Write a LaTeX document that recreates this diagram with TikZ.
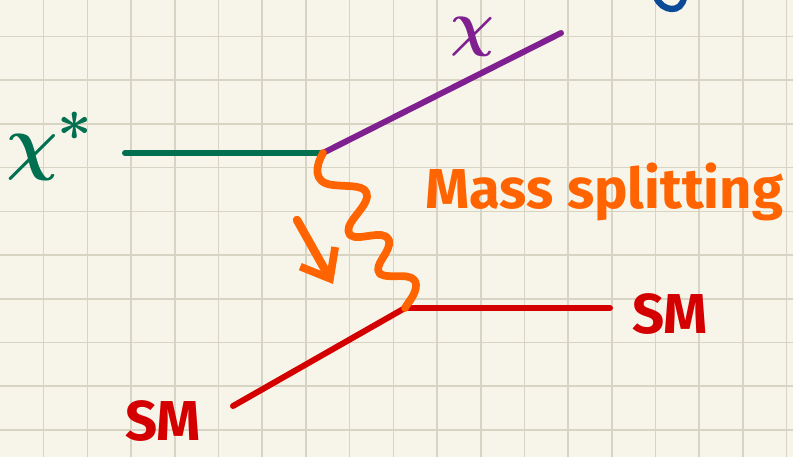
\documentclass[tikz,border=0pt]{standalone}
\usepackage{fontspec}
\setsansfont{Fira Sans}
\usetikzlibrary{arrows.meta}
\definecolor{papercolor}{RGB}{247,245,234}
\definecolor{gridcolor}{RGB}{216,212,196}
\definecolor{dmgreen}{RGB}{0,112,80}
\definecolor{dmpurple}{RGB}{128,32,144}
\definecolor{splitorange}{RGB}{255,100,0}
\definecolor{smred}{RGB}{212,0,0}
\definecolor{penblue}{RGB}{10,74,150}
\newcommand{\bigsym}[2]{\scalebox{#1}{\Huge\boldmath$#2$}}
\tikzset{
  gridline/.style={draw=gridcolor, line width=0.9pt},
  leg/.style={line width=3.4pt, line cap=round},
  wiggle/.style={draw=splitorange, line width=4.4pt, line cap=round, line join=round},
  hint/.style={-{Straight Barb[length=5mm, width=8mm, line width=4.4pt]}, draw=splitorange, line width=4.8pt, line cap=round},
  lbl/.style={font=\sffamily\bfseries\fontsize{32}{32}\selectfont, inner sep=0pt},
  sym/.style={inner sep=0pt},
}

\begin{document}
\begin{tikzpicture}[x=0.02cm, y=-0.02cm]
\useasboundingbox[fill=papercolor] (0,0) rectangle (793,457);
\clip (0,0) rectangle (793,457);
\foreach \k in {1,...,18} \draw[gridline] (43.7*\k,0) -- (43.7*\k,457);
\foreach \k in {0,...,9} \draw[gridline] (0,36.5+43.7*\k) -- (793,36.5+43.7*\k);
\coordinate (vin) at (323,153);
\coordinate (vout) at (405,308);
\coordinate (gstart) at (125,153);
\coordinate (pend) at (561,33);
\coordinate (smr) at (610,308);
\coordinate (sml) at (233,406);
\coordinate (arrtail) at (297,220);
\coordinate (arrhead) at (333,284);
\draw[leg, dmgreen] (gstart) -- (vin);
\draw[leg, dmpurple] (vin) -- (pend);
\draw[leg, smred] (vout) -- (smr);
\draw[leg, smred] (vout) -- (sml);
\draw[wiggle] (vin) .. controls (316,165) and (312,183) .. (333,185)
  .. controls (350,187) and (368,184) .. (367,197)
  .. controls (365,210) and (342,225) .. (350,235)
  .. controls (358,242) and (384,228) .. (389,240)
  .. controls (392,252) and (372,265) .. (380,274)
  .. controls (390,280) and (415,270) .. (416,285)
  .. controls (416,295) and (408,302) .. (vout);
\draw[hint] (arrtail) -- (arrhead);
\node[sym, text=dmgreen] (chistar) at (50,146) {\bigsym{1.65}{\chi^{*}}};
\node[sym, text=dmpurple] (chi) at (472,37) {\bigsym{1.4}{\chi}};
\node[lbl, text=splitorange, anchor=base west] (split) at (425,208) {Mass splitting};
\node[lbl, text=smred] (smright) at (670,314) {SM};
\node[lbl, text=smred] (smleft) at (163,421) {SM};
\draw[penblue, line width=3.6pt, line cap=round] (656,-3) .. controls (662,12) and (682,14) .. (684,-3);
\end{tikzpicture}
\end{document}
